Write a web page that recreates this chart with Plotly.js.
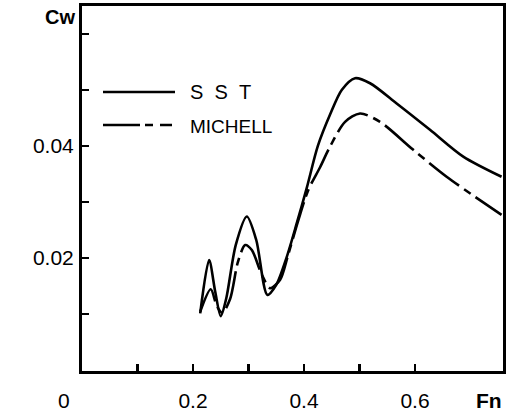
<!DOCTYPE html>
<html>
<head>
<meta charset="utf-8">
<script src="https://cdn.plot.ly/plotly-3.0.1.min.js"></script>
<style>html,body{margin:0;padding:0;background:#fff;}#chart{width:511px;height:413px;}</style>
</head>
<body>
<div id="chart"></div>
<script>
// Froude number (Fn) and wave resistance coefficient (Cw)
const sstFn = [0.213, 0.229, 0.240, 0.250, 0.260, 0.277, 0.297, 0.314, 0.334, 0.350, 0.369, 0.387, 0.405, 0.425, 0.447, 0.468, 0.492, 0.519, 0.567, 0.627, 0.687, 0.756];
const sstCw = [0.0101, 0.0196, 0.0140, 0.0096, 0.0128, 0.0223, 0.0274, 0.0232, 0.0134, 0.0152, 0.0202, 0.0262, 0.0325, 0.0400, 0.0456, 0.0500, 0.0521, 0.0512, 0.0476, 0.0429, 0.0381, 0.0345];
const michellFn = [0.213, 0.232, 0.243, 0.253, 0.267, 0.281, 0.294, 0.306, 0.324, 0.339, 0.357, 0.371, 0.390, 0.408, 0.429, 0.447, 0.474, 0.501, 0.537, 0.597, 0.657, 0.756];
const michellCw = [0.0104, 0.0144, 0.0114, 0.0102, 0.0127, 0.0193, 0.0223, 0.0214, 0.0170, 0.0146, 0.0161, 0.0204, 0.0268, 0.0322, 0.0362, 0.0399, 0.0443, 0.0458, 0.0443, 0.0393, 0.0345, 0.0277];
const xTickVals = [0.1, 0.2, 0.3, 0.4, 0.5, 0.6];
const xTickText = ["", "0.2", "", "0.4", "", "0.6"];
const yTickVals = [0.01, 0.02, 0.03, 0.04, 0.05, 0.06];
const yTickText = ["", "0.02", "", "0.04", "", ""];
const seriesNames = ["S S T", "MICHELL"];

const FONT = "Liberation Sans, Arial, Helvetica, sans-serif";
const michellDash = "38px,6px,8px,6px";

const traces = [
  {x: sstFn, y: sstCw, name: seriesNames[0], mode: "lines", type: "scatter",
   line: {color: "#000", width: 2.6, shape: "spline", smoothing: 0.8}},
  {x: michellFn, y: michellCw, name: seriesNames[1], mode: "lines", type: "scatter",
   line: {color: "#000", width: 2.6, shape: "spline", smoothing: 0.8, dash: michellDash}}
];

const layout = {
  width: 511, height: 413,
  margin: {l: 82, r: 8, t: 6, b: 42, pad: 0},
  paper_bgcolor: "#fff", plot_bgcolor: "#fff",
  showlegend: false,
  font: {family: FONT, color: "#000", size: 21},
  xaxis: {
    range: [0, 0.7586], showgrid: false, zeroline: false,
    showline: true, linecolor: "#000", linewidth: 3, mirror: true,
    ticks: "inside", ticklen: 7, tickwidth: 2.5, tickcolor: "#000",
    tickmode: "array", tickvals: xTickVals, ticktext: xTickText,
    tickfont: {family: FONT, size: 21, color: "#000"},
    ticklabelstandoff: 9
  },
  yaxis: {
    range: [-0.0002, 0.065], showgrid: false, zeroline: false,
    showline: true, linecolor: "#000", linewidth: 3, mirror: true,
    ticks: "inside", ticklen: 7, tickwidth: 2.5, tickcolor: "#000",
    tickmode: "array", tickvals: yTickVals, ticktext: yTickText,
    tickfont: {family: FONT, size: 21, color: "#000"},
    ticklabelstandoff: 1
  },
  shapes: [
    {type: "line", xref: "paper", yref: "paper",
     x0: (103 - 82) / 421, x1: (175 - 82) / 421, y0: (371 - 92) / 365, y1: (371 - 92) / 365,
     line: {color: "#000", width: 2.6}},
    {type: "line", xref: "paper", yref: "paper",
     x0: (103 - 82) / 421, x1: (172 - 82) / 421, y0: (371 - 125) / 365, y1: (371 - 125) / 365,
     line: {color: "#000", width: 2.6, dash: "37px,5px,8px,7px,12px"}}
  ],
  annotations: [
    {text: "S\u00a0\u00a0S\u00a0\u00a0T", xref: "paper", yref: "paper",
     x: (188 - 82) / 421, y: (371 - 92) / 365, xanchor: "left", yanchor: "middle",
     showarrow: false, font: {family: FONT, size: 20, color: "#000"}},
    {text: seriesNames[1], xref: "paper", yref: "paper",
     x: (188 - 82) / 421, y: (371 - 126) / 365, xanchor: "left", yanchor: "middle",
     showarrow: false, font: {family: FONT, size: 19, color: "#000"}},
    {text: "<b>Cw</b>", xref: "paper", yref: "paper",
     x: (77 - 82) / 421, y: (371 - 17) / 365, xanchor: "right", yanchor: "middle",
     showarrow: false, font: {family: FONT, size: 20, color: "#000"}},
    {text: "<b>Fn</b>", xref: "paper", yref: "paper",
     x: (504 - 82) / 421, y: (371 - 400) / 365, xanchor: "right", yanchor: "middle",
     showarrow: false, font: {family: FONT, size: 21, color: "#000"}},
    {text: "0", xref: "paper", yref: "paper",
     x: (64 - 82) / 421, y: (371 - 400) / 365, xanchor: "center", yanchor: "middle",
     showarrow: false, font: {family: FONT, size: 21, color: "#000"}}
  ]
};

Plotly.newPlot("chart", traces, layout, {staticPlot: true, displayModeBar: false});
</script>
</body>
</html>
